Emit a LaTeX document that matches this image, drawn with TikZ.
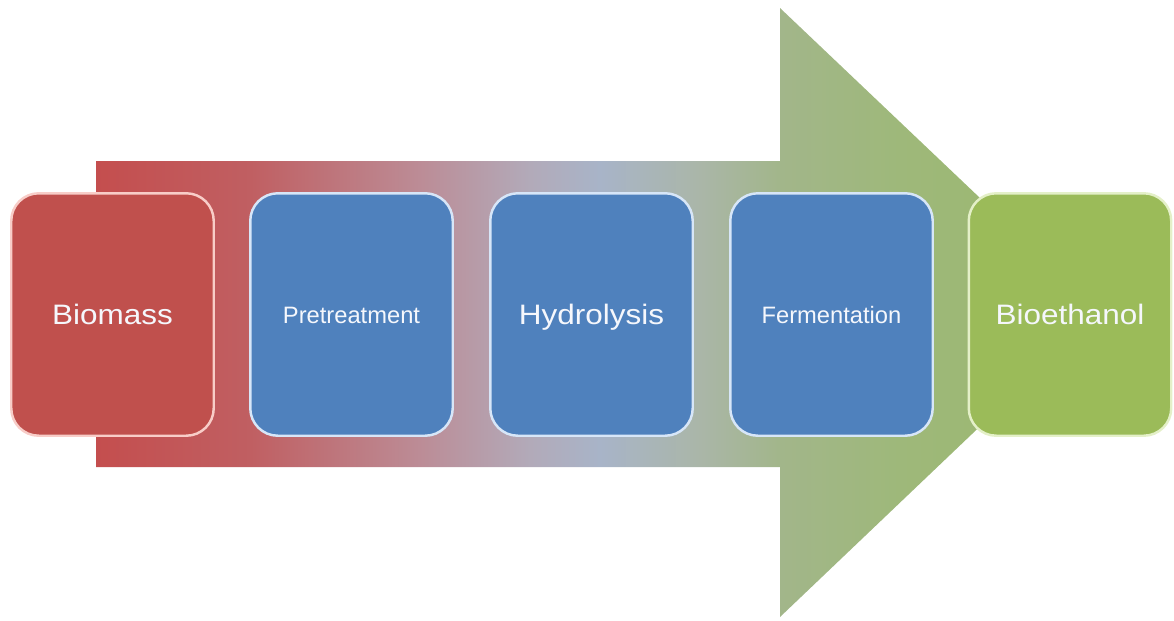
\documentclass[tikz,border=0pt]{standalone}
\usepackage{fontspec}
\setmainfont{Liberation Sans}
\newfontfamily\bigfont[FakeStretch=1.12]{Liberation Sans}
\definecolor{bred}{RGB}{192,80,77}
\definecolor{bblue}{RGB}{79,129,189}
\definecolor{bgreen}{RGB}{155,187,89}
\definecolor{c0}{RGB}{196,78,78}
\definecolor{c1}{RGB}{192,95,98}
\definecolor{c2}{RGB}{188,140,150}
\definecolor{c3}{RGB}{178,170,185}
\definecolor{c4}{RGB}{168,180,200}
\definecolor{c5}{RGB}{170,182,168}
\definecolor{c6}{RGB}{162,182,138}
\definecolor{c7}{RGB}{158,184,122}
\definecolor{c8}{RGB}{155,185,108}
\definecolor{txt}{RGB}{245,247,252}
\pgfdeclarehorizontalshading{arrowshade}{100bp}{color(0bp)=(c0); color(25bp)=(c0); color(32.7bp)=(c1); color(41.1bp)=(c2); color(46.6bp)=(c3); color(50.1bp)=(c4); color(55.1bp)=(c5); color(59.1bp)=(c6); color(65bp)=(c7); color(75bp)=(c8); color(100bp)=(c8)}
\tikzset{
  stage/.style={rectangle, rounded corners=0.55cm, minimum width=4.05cm, minimum height=4.85cm, inner sep=0pt, line width=1.4pt, text=txt},
  redbox/.style={stage, fill=bred, draw={rgb,255:red,248;green,205;blue,200}},
  bluebox/.style={stage, fill=bblue, draw={rgb,255:red,215;green,230;blue,248}},
  greenbox/.style={stage, fill=bgreen, draw={rgb,255:red,228;green,240;blue,200}},
  bigtxt/.style={font=\bigfont\fontsize{16}{19}\selectfont, text height=11.5pt, text depth=0pt},
  smalltxt/.style={font=\fontsize{13.5}{16}\selectfont, text height=9.7pt, text depth=0pt},
}
\begin{document}
\begin{tikzpicture}[x=0.02cm, y=-0.02cm]
\useasboundingbox (0,0) rectangle (1174,620);
% big arrow
\shade[shading=arrowshade] (96,161) -- (780,161) -- (780,8) -- (1100,312) -- (780,617) -- (780,467) -- (96,467) -- cycle;
% boxes
\node[redbox, bigtxt] (bio) at (112.5,314.5) {Biomass};
\node[bluebox, smalltxt] (pre) at (351.5,314.5) {Pretreatment};
\node[bluebox, bigtxt] (hyd) at (591.5,314.5) {Hydrolysis};
\node[bluebox, smalltxt] (fer) at (831.5,314.5) {Fermentation};
\node[greenbox, bigtxt] (eth) at (1070,314.5) {Bioethanol};
\end{tikzpicture}
\end{document}
